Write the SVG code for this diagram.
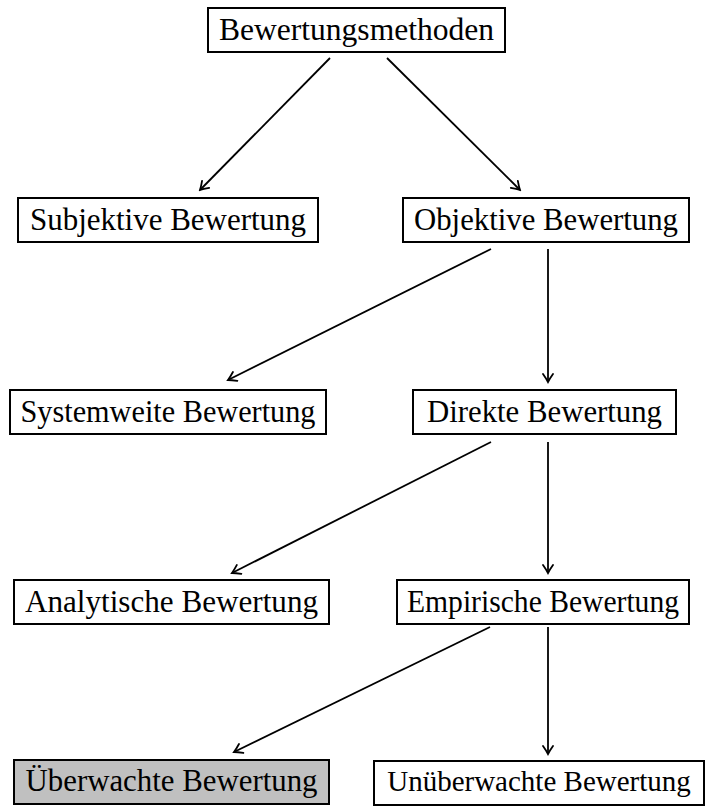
<svg xmlns="http://www.w3.org/2000/svg" width="710" height="808" viewBox="0 0 710 808">
<defs>
<style>
.box{fill:#fff;stroke:#000;stroke-width:2}
.gray{fill:#c0c0c0}
.t{font-family:"Liberation Serif","DejaVu Serif",serif;font-size:32px;text-anchor:middle;fill:#000}
.e{stroke:#000;stroke-width:1.8;fill:none;marker-end:url(#ah)}
</style>
<marker id="ah" viewBox="-10 -6 12 12" refX="0" refY="0" markerWidth="12" markerHeight="12" markerUnits="userSpaceOnUse" orient="auto">
<path d="M-8,-5 Q-3,-1.5 0,0 Q-3,1.5 -8,5" fill="none" stroke="#000" stroke-width="1.8" stroke-linecap="round"/>
</marker>
</defs>
<rect width="710" height="808" fill="#fff"/>
<g id="connectors">
<line class="e" x1="330" y1="58" x2="200" y2="190"/>
<line class="e" x1="387" y1="58" x2="520" y2="190"/>
<line class="e" x1="491" y1="249" x2="228" y2="380"/>
<line class="e" x1="548" y1="249" x2="548" y2="382"/>
<line class="e" x1="491" y1="442" x2="232" y2="573"/>
<line class="e" x1="548" y1="442" x2="548" y2="573"/>
<line class="e" x1="490" y1="627" x2="234" y2="752"/>
<line class="e" x1="548" y1="627" x2="548" y2="754"/>
</g>
<g id="n1"><rect class="box" x="208" y="8" width="297" height="44"/><text class="t" x="356.5" y="40" textLength="275" lengthAdjust="spacingAndGlyphs">Bewertungsmethoden</text></g>
<g id="n2"><rect class="box" x="18" y="198" width="300" height="44"/><text class="t" x="168" y="230" textLength="276" lengthAdjust="spacingAndGlyphs">Subjektive Bewertung</text></g>
<g id="n3"><rect class="box" x="403" y="198" width="286" height="44"/><text class="t" x="546" y="230" textLength="264" lengthAdjust="spacingAndGlyphs">Objektive Bewertung</text></g>
<g id="n4"><rect class="box" x="10" y="390" width="316" height="44"/><text class="t" x="168" y="422" textLength="295" lengthAdjust="spacingAndGlyphs">Systemweite Bewertung</text></g>
<g id="n5"><rect class="box" x="413" y="390" width="263" height="44"/><text class="t" x="544.5" y="422" textLength="235" lengthAdjust="spacingAndGlyphs">Direkte Bewertung</text></g>
<g id="n6"><rect class="box" x="14" y="580" width="315" height="44"/><text class="t" x="171.5" y="612" textLength="293" lengthAdjust="spacingAndGlyphs">Analytische Bewertung</text></g>
<g id="n7"><rect class="box" x="397" y="580" width="292" height="44"/><text class="t" x="543" y="612" textLength="272" lengthAdjust="spacingAndGlyphs">Empirische Bewertung</text></g>
<g id="n8"><rect class="box gray" x="14" y="760" width="315" height="44"/><text class="t" x="171.5" y="791" textLength="292" lengthAdjust="spacingAndGlyphs">Überwachte Bewertung</text></g>
<g id="n9"><rect class="box" x="374" y="761" width="330" height="44"/><text class="t" x="539" y="791" style="font-size:29px">Unüberwachte Bewertung</text></g>
</svg>
